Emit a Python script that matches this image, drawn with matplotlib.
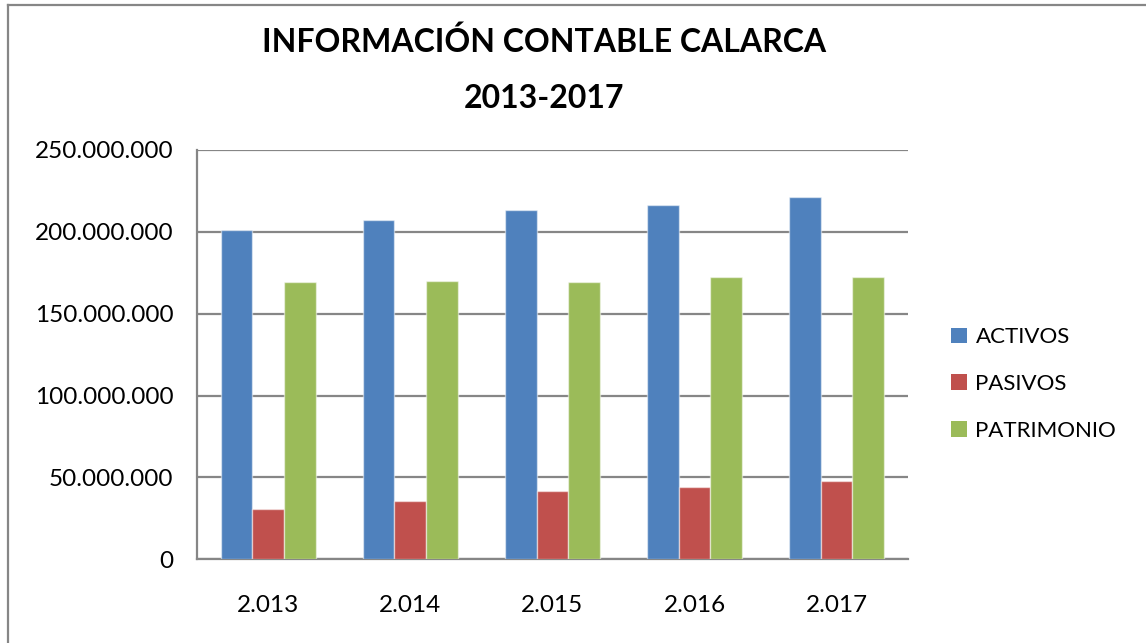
import matplotlib
matplotlib.use("Agg")
import matplotlib.pyplot as plt
from matplotlib.ticker import FuncFormatter, MultipleLocator
from matplotlib.lines import Line2D
from matplotlib.patches import Patch
import numpy as np

years = ["2.013", "2.014", "2.015", "2.016", "2.017"]
series_names = ["ACTIVOS", "PASIVOS", "PATRIMONIO"]
activos = [200.9e6, 207.2e6, 213.3e6, 216.7e6, 221.5e6]
pasivos = [30.9e6, 35.6e6, 41.9e6, 44.2e6, 47.7e6]
patrimonio = [169.1e6, 170.1e6, 169.1e6, 172.6e6, 172.6e6]
colors = ["#4F81BD", "#C0504D", "#9BBB59"]

plt.rcParams['font.family'] = ['Lato', 'DejaVu Sans']

fig = plt.figure(figsize=(11.46, 6.43), dpi=100)
ax = fig.add_axes([197/1146, 1-559.3/643, (907.7-197)/1146, (559.3-150)/643])

x = np.arange(len(years))
w = 0.223
for i, (vals, c) in enumerate(zip([activos, pasivos, patrimonio], colors)):
    ax.bar(x + (i-1)*w, vals, width=w, color=c, edgecolor=(1, 1, 1, 0.5), linewidth=1, zorder=3)

ax.set_xlim(-0.5, len(years)-0.5)
ax.set_ylim(0, 250e6)
ax.yaxis.set_major_locator(MultipleLocator(50e6))
ax.yaxis.set_major_formatter(FuncFormatter(lambda v, p: f"{int(round(v)):,}".replace(",", ".")))
ax.set_xticks(x)
ax.set_xticklabels(years)
ax.tick_params(axis='both', length=0, labelsize=17.5, colors='black')
ax.tick_params(axis='y', pad=17)
ax.tick_params(axis='x', pad=26)
ax.grid(axis='y', color='#868686', linewidth=1.6, zorder=0)
ax.set_axisbelow(True)
for s in ['top', 'right']:
    ax.spines[s].set_visible(False)
for s in ['left', 'bottom']:
    ax.spines[s].set_color('#868686')
    ax.spines[s].set_linewidth(1.6)

title_font = ['Liberation Sans Narrow', 'Lato', 'DejaVu Sans']
fig.text(544/1146, 1-42/643, "INFORMACIÓN CONTABLE CALARCA", ha='center', va='center',
         fontsize=23, fontweight='bold', family=title_font)
fig.text(544/1146, 1-98/643, "2013-2017", ha='center', va='center',
         fontsize=23, fontweight='bold', family=title_font)

handles = [Patch(facecolor=c, edgecolor='none') for c in colors]
fig.legend(handles, series_names, loc='center left', bbox_to_anchor=(951/1146, 1-384/643),
           frameon=False, fontsize=16, handlelength=0.72, handleheight=0.72,
           handletextpad=0.38, labelspacing=1.2, borderpad=0, borderaxespad=0)

# outer chart frame (left and top visible)
fig.add_artist(Line2D([8/1146, 8/1146], [0, 1-5/643], color='#868686', linewidth=1.6, transform=fig.transFigure))
fig.add_artist(Line2D([8/1146, 1], [1-5/643, 1-5/643], color='#868686', linewidth=1.6, transform=fig.transFigure))

fig.savefig("out.png", dpi=100)
